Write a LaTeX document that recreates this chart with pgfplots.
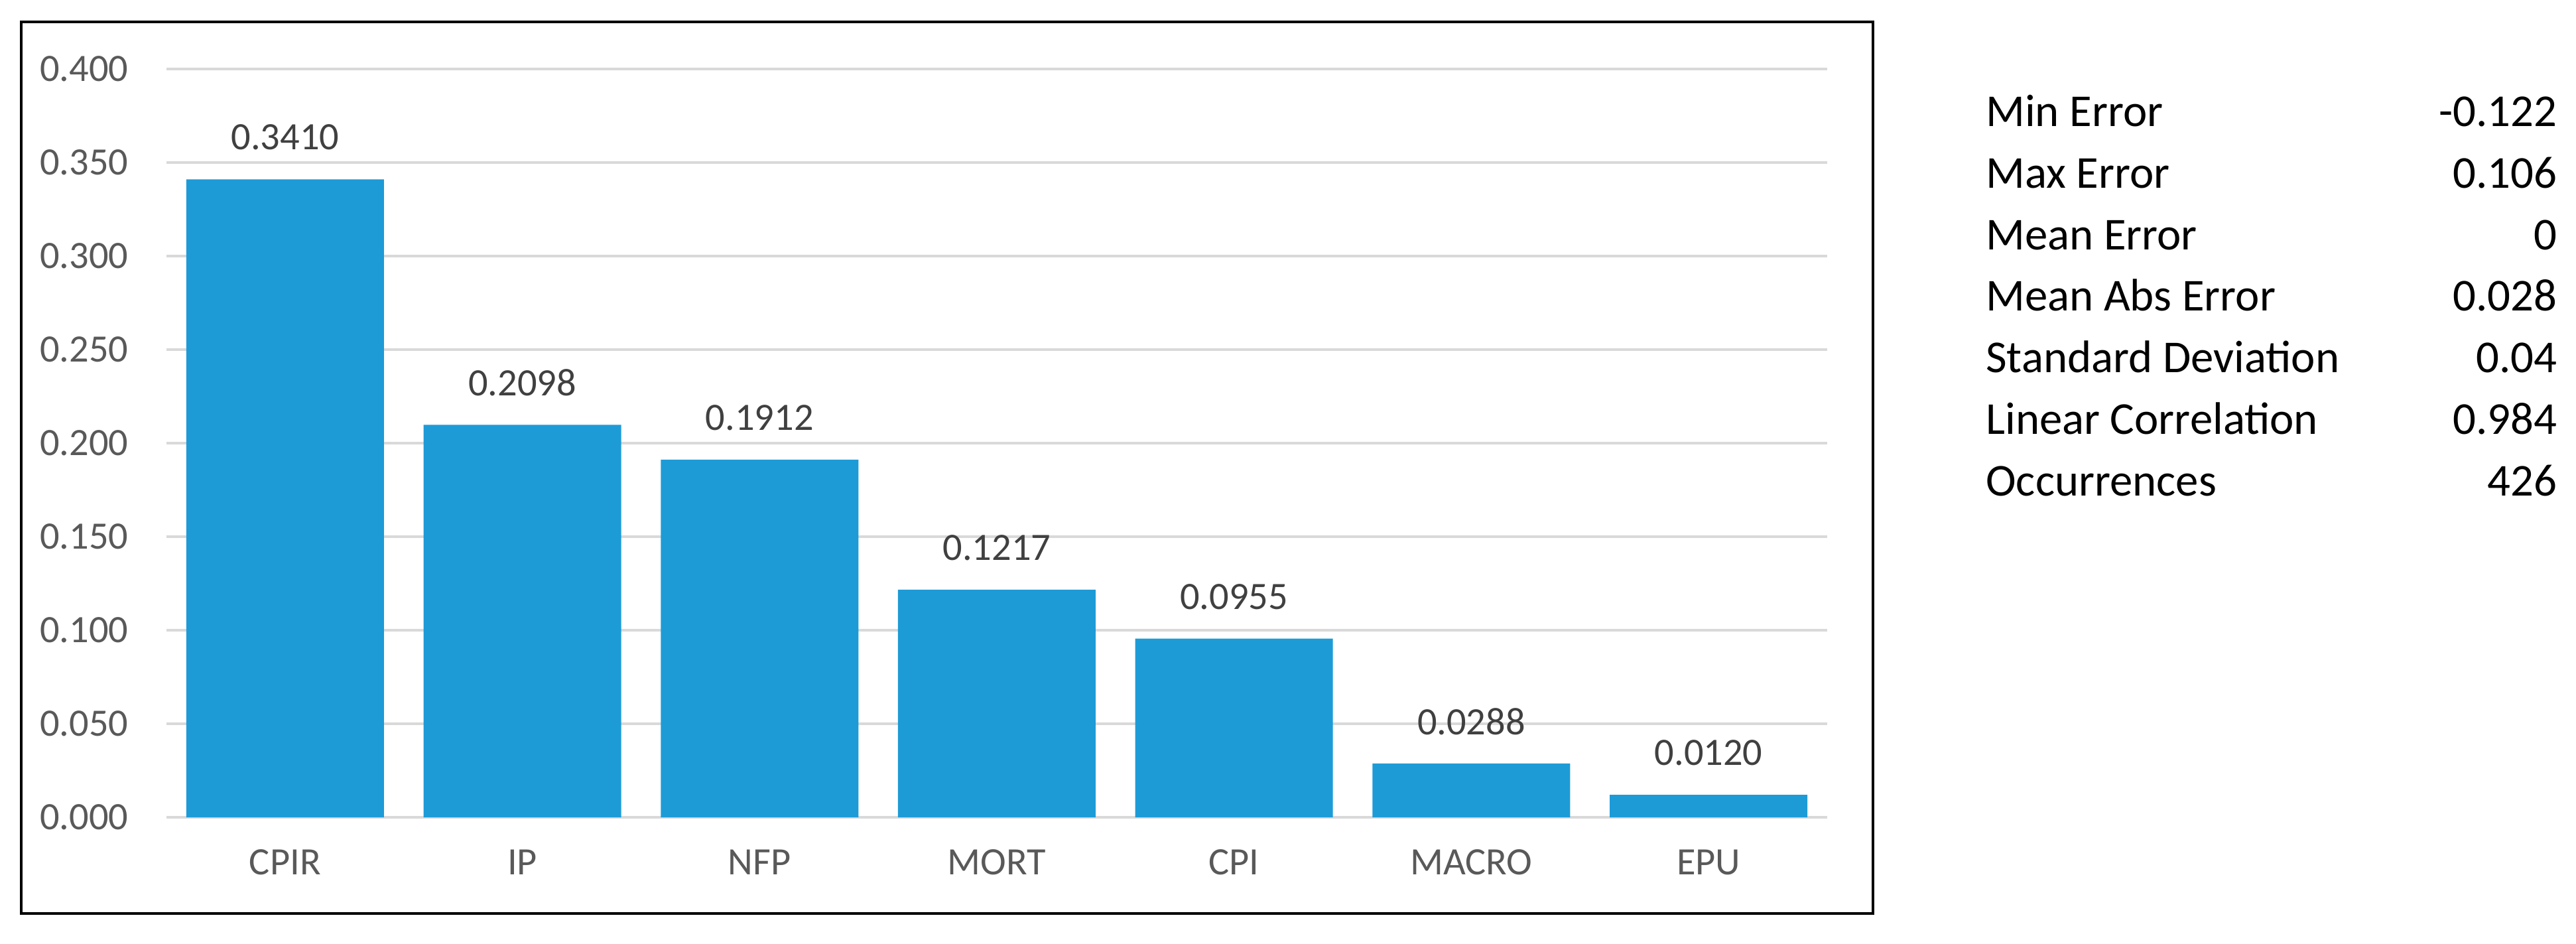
\documentclass[border=0pt]{standalone}
\usepackage{fontspec}
\setmainfont{Carlito}
\usepackage{pgfplots}
\pgfplotsset{compat=1.18}
\definecolor{barblue}{RGB}{29,155,215}
\definecolor{gridgray}{RGB}{217,217,217}
\definecolor{ticktext}{RGB}{89,89,89}
\definecolor{valtext}{RGB}{64,64,64}
\begin{document}
\begin{tikzpicture}
\useasboundingbox (0,0) rectangle (485.5pt,177.75pt);
\draw[line width=0.5pt,black] (4pt,5.625pt) rectangle (353pt,173.625pt);
\begin{axis}[
  at={(31.375pt,23.75pt)}, anchor=south west,
  scale only axis, width=313pt, height=141pt,
  xmin=-0.5, xmax=6.5, ymin=0, ymax=0.4,
  ytick={0,0.05,...,0.4},
  xtick={0,1,2,3,4,5,6},
  xticklabels={CPIR,IP,NFP,MORT,CPI,MACRO,EPU},
  axis line style={draw=none},
  major tick length=0pt,
  ymajorgrids,
  grid style={color=gridgray,line width=0.44pt},
  /pgf/number format/assume math mode=true,
  yticklabel style={/pgf/number format/fixed,/pgf/number format/fixed zerofill,/pgf/number format/precision=3,
    anchor=east, inner sep=0pt, xshift=-7pt, font=\fontsize{7.3pt}{8pt}\selectfont, text=ticktext},
  xticklabel style={anchor=center, inner sep=0pt, yshift=-8.5pt, font=\fontsize{7.3pt}{8pt}\selectfont, text=ticktext},
  ybar, bar width=37.25pt,
  point meta=explicit symbolic,
  nodes near coords,
  nodes near coords style={anchor=center, inner sep=0pt, yshift=7.9pt, font=\fontsize{7.3pt}{8pt}\selectfont, text=valtext},
]
\addplot[fill=barblue, draw=none] coordinates {
  (0,0.3410) [0.3410]
  (1,0.2098) [0.2098]
  (2,0.1912) [0.1912]
  (3,0.1217) [0.1217]
  (4,0.0955) [0.0955]
  (5,0.0288) [0.0288]
  (6,0.0120) [0.0120]
};
\end{axis}
\begin{scope}[every node/.style={inner sep=0pt, font=\fontsize{8.6pt}{9.5pt}\selectfont}]
\node[anchor=base west] at (374.1pt,153.9pt) {Min Error};
\node[anchor=base east] at (482.1pt,153.9pt) {-0.122};
\node[anchor=base west] at (374.1pt,142.31pt) {Max Error};
\node[anchor=base east] at (482.1pt,142.31pt) {0.106};
\node[anchor=base west] at (374.1pt,130.72pt) {Mean Error};
\node[anchor=base east] at (482.1pt,130.72pt) {0};
\node[anchor=base west] at (374.1pt,119.13pt) {Mean Abs Error};
\node[anchor=base east] at (482.1pt,119.13pt) {0.028};
\node[anchor=base west] at (374.1pt,107.54pt) {Standard Deviation};
\node[anchor=base east] at (482.1pt,107.54pt) {0.04};
\node[anchor=base west] at (374.1pt,95.95pt) {Linear Correlation};
\node[anchor=base east] at (482.1pt,95.95pt) {0.984};
\node[anchor=base west] at (374.1pt,84.36pt) {Occurrences};
\node[anchor=base east] at (482.1pt,84.36pt) {426};
\end{scope}
\end{tikzpicture}
\end{document}
